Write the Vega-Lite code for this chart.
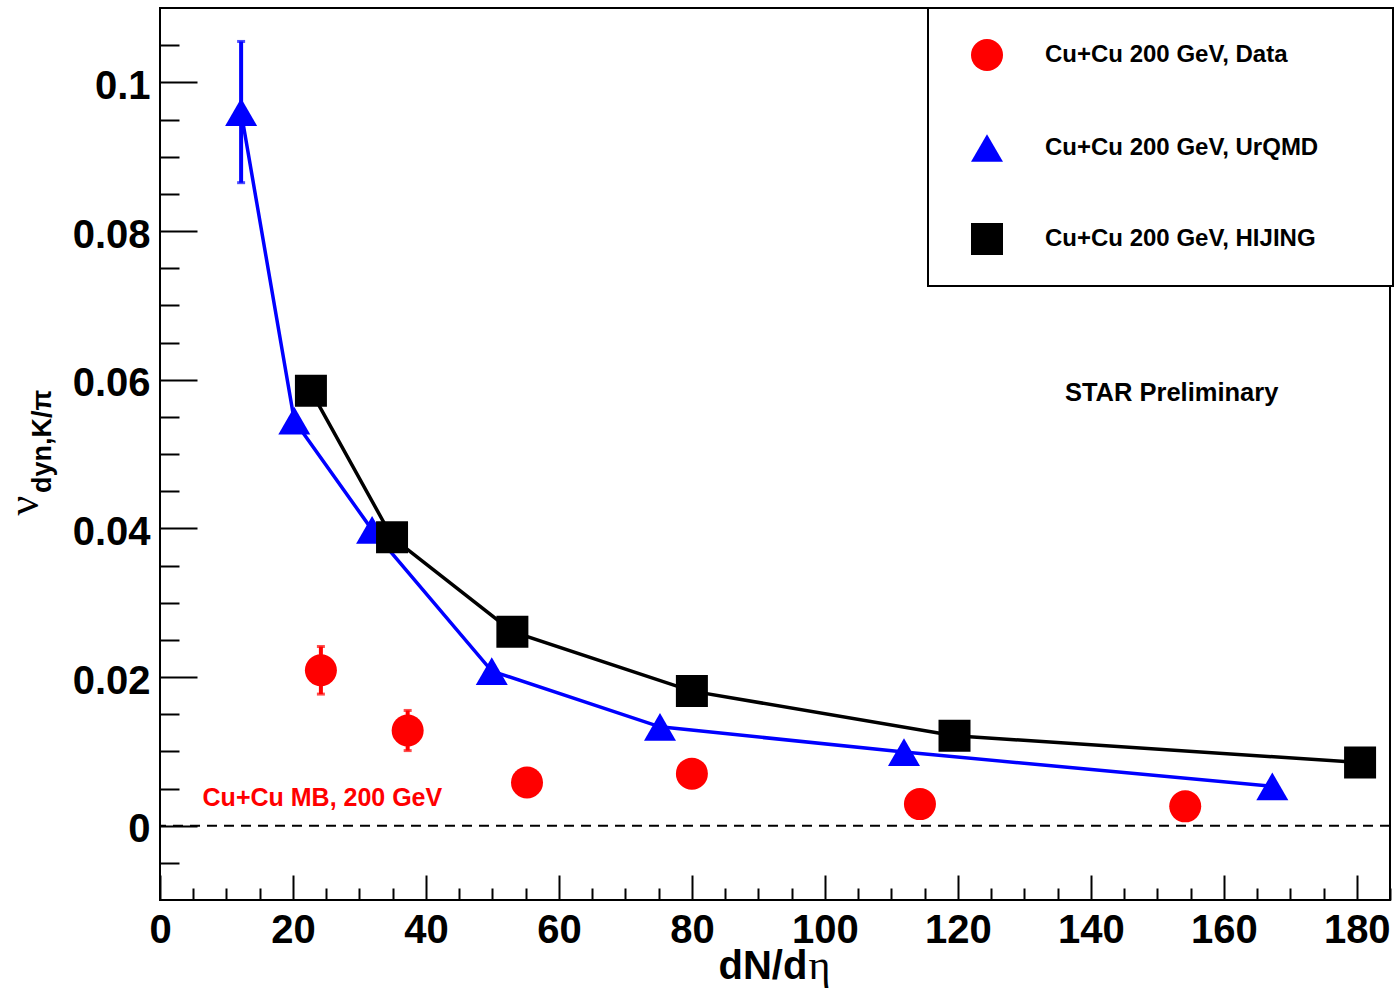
{
  "$schema": "https://vega.github.io/schema/vega-lite/v6.json",
  "width": 1230,
  "height": 892,
  "autosize": {"type": "none"},
  "padding": {"left": 160, "top": 8, "right": 5, "bottom": 93},
  "background": "white",
  "config": {
    "view": {"stroke": "black", "strokeWidth": 2},
    "font": "Liberation Sans",
    "legend": {"strokeWidth": 2},
    "axis": {
      "grid": false,
      "domain": false,
      "tickColor": "black",
      "tickWidth": 2,
      "labelFont": "Liberation Sans",
      "labelFontWeight": "bold",
      "labelFontSize": 40,
      "labelColor": "black",
      "titleColor": "black"
    }
  },
  "datasets": {
    "vdyn": [
      {"series": "Cu+Cu 200 GeV, Data", "dndeta": 24.2, "v": 0.0209, "err": 0.0032},
      {"series": "Cu+Cu 200 GeV, Data", "dndeta": 37.25, "v": 0.0128, "err": 0.0027},
      {"series": "Cu+Cu 200 GeV, Data", "dndeta": 55.2, "v": 0.0058, "err": null},
      {"series": "Cu+Cu 200 GeV, Data", "dndeta": 80.0, "v": 0.0070, "err": null},
      {"series": "Cu+Cu 200 GeV, Data", "dndeta": 114.3, "v": 0.0029, "err": null},
      {"series": "Cu+Cu 200 GeV, Data", "dndeta": 154.2, "v": 0.0026, "err": null},
      {"series": "Cu+Cu 200 GeV, UrQMD", "dndeta": 12.2, "v": 0.0960, "err": 0.0095},
      {"series": "Cu+Cu 200 GeV, UrQMD", "dndeta": 20.2, "v": 0.0545, "err": null},
      {"series": "Cu+Cu 200 GeV, UrQMD", "dndeta": 31.9, "v": 0.0398, "err": null},
      {"series": "Cu+Cu 200 GeV, UrQMD", "dndeta": 49.9, "v": 0.0208, "err": null},
      {"series": "Cu+Cu 200 GeV, UrQMD", "dndeta": 75.2, "v": 0.0133, "err": null},
      {"series": "Cu+Cu 200 GeV, UrQMD", "dndeta": 111.9, "v": 0.0099, "err": null},
      {"series": "Cu+Cu 200 GeV, UrQMD", "dndeta": 167.3, "v": 0.0053, "err": null},
      {"series": "Cu+Cu 200 GeV, HIJING", "dndeta": 22.7, "v": 0.0585, "err": null},
      {"series": "Cu+Cu 200 GeV, HIJING", "dndeta": 34.9, "v": 0.0388, "err": null},
      {"series": "Cu+Cu 200 GeV, HIJING", "dndeta": 53.0, "v": 0.0261, "err": null},
      {"series": "Cu+Cu 200 GeV, HIJING", "dndeta": 80.0, "v": 0.0181, "err": null},
      {"series": "Cu+Cu 200 GeV, HIJING", "dndeta": 119.5, "v": 0.0121, "err": null},
      {"series": "Cu+Cu 200 GeV, HIJING", "dndeta": 180.5, "v": 0.0085, "err": null}
    ]
  },
  "layer": [
    {
      "data": {"values": [{}]},
      "mark": {"type": "rule", "color": "black", "strokeWidth": 2, "strokeDash": [10, 7]},
      "encoding": {
        "y": {"datum": 0, "type": "quantitative", "scale": {"domain": [-0.01, 0.11], "nice": false, "zero": false}, "axis": null}
      }
    },
    {
      "data": {"name": "vdyn"},
      "transform": [{"filter": "datum.series === 'Cu+Cu 200 GeV, UrQMD'"}],
      "mark": {"type": "line", "strokeWidth": 3.5, "color": "#0000ff"},
      "encoding": {
        "x": {
          "field": "dndeta", "type": "quantitative",
          "scale": {"domain": [0, 185], "nice": false, "zero": false},
          "axis": {
            "orient": "bottom",
            "values": [0, 20, 40, 60, 80, 100, 120, 140, 160, 180],
            "tickSize": -25,
            "labelPadding": 67,
            "labelBaseline": "alphabetic",
            "labelFlush": false,
            "title": "dN/d",
            "titleFont": "Liberation Sans",
            "titleFontWeight": "bold",
            "titleFontSize": 40,
            "titleAlign": "left",
            "titleBaseline": "alphabetic",
            "titleX": 558,
            "titleY": 78
          }
        },
        "y": {
          "field": "v", "type": "quantitative",
          "scale": {"domain": [-0.01, 0.11], "nice": false, "zero": false},
          "axis": {
            "orient": "left",
            "values": [0, 0.02, 0.04, 0.06, 0.08, 0.1],
            "format": ".2~f",
            "tickSize": -37,
            "labelPadding": 47,
            "labelBaseline": "middle",
            "labelOffset": 4,
            "labelFlush": false,
            "title": "ν",
            "titleFont": "Liberation Serif",
            "titleFontWeight": "normal",
            "titleFontSize": 44,
            "titleAngle": -90,
            "titleAlign": "center",
            "titleBaseline": "alphabetic",
            "titleX": -123,
            "titleY": 497
          }
        }
      }
    },
    {
      "data": {"name": "vdyn"},
      "transform": [{"filter": "datum.series === 'Cu+Cu 200 GeV, HIJING'"}],
      "mark": {"type": "line", "strokeWidth": 3.5, "color": "#000000"},
      "encoding": {
        "x": {"field": "dndeta", "type": "quantitative", "axis": null},
        "y": {"field": "v", "type": "quantitative", "axis": null}
      }
    },
    {
      "data": {"name": "vdyn"},
      "transform": [{"filter": "datum.series === 'Cu+Cu 200 GeV, UrQMD' && isValid(datum.err)"}],
      "mark": {"type": "errorbar", "color": "#0000ff", "thickness": 4, "ticks": {"size": 8, "thickness": 3}},
      "encoding": {
        "x": {"field": "dndeta", "type": "quantitative", "axis": null},
        "y": {"field": "v", "type": "quantitative", "axis": null},
        "yError": {"field": "err"}
      }
    },
    {
      "data": {"name": "vdyn"},
      "transform": [{"filter": "datum.series === 'Cu+Cu 200 GeV, Data' && isValid(datum.err)"}],
      "mark": {"type": "errorbar", "color": "#ff0000", "thickness": 4, "ticks": {"size": 8, "thickness": 3}},
      "encoding": {
        "x": {"field": "dndeta", "type": "quantitative", "axis": null},
        "y": {"field": "v", "type": "quantitative", "axis": null},
        "yError": {"field": "err"}
      }
    },
    {
      "data": {"name": "vdyn"},
      "mark": {"type": "point", "filled": true, "size": 1024, "opacity": 1, "strokeWidth": 0},
      "encoding": {
        "x": {
          "field": "dndeta", "type": "quantitative",
          "axis": {
            "orient": "bottom",
            "values": [5, 10, 15, 25, 30, 35, 45, 50, 55, 65, 70, 75, 85, 90, 95, 105, 110, 115, 125, 130, 135, 145, 150, 155, 165, 170, 175, 185],
            "tickSize": -12,
            "labels": false,
            "title": "η",
            "titleFont": "Liberation Serif",
            "titleFontWeight": "normal",
            "titleFontSize": 42,
            "titleAlign": "left",
            "titleBaseline": "alphabetic",
            "titleX": 648,
            "titleY": 78
          }
        },
        "y": {
          "field": "v", "type": "quantitative",
          "axis": {
            "orient": "left",
            "values": [-0.005, 0.005, 0.01, 0.015, 0.025, 0.03, 0.035, 0.045, 0.05, 0.055, 0.065, 0.07, 0.075, 0.085, 0.09, 0.095, 0.105],
            "tickSize": -19,
            "labels": false,
            "title": "dyn,K/π",
            "titleFont": "Liberation Sans",
            "titleFontWeight": "bold",
            "titleFontSize": 27,
            "titleAngle": -90,
            "titleAlign": "center",
            "titleBaseline": "alphabetic",
            "titleX": -110,
            "titleY": 433
          }
        },
        "color": {
          "field": "series", "type": "nominal",
          "scale": {
            "domain": ["Cu+Cu 200 GeV, Data", "Cu+Cu 200 GeV, UrQMD", "Cu+Cu 200 GeV, HIJING"],
            "range": ["#ff0000", "#0000ff", "#000000"]
          },
          "legend": {
            "orient": "none",
            "legendX": 768,
            "legendY": 0,
            "title": null,
            "padding": 31,
            "rowPadding": 61,
            "symbolSize": 1024,
            "symbolOffset": 12,
            "symbolStrokeWidth": 0,
            "labelOffset": 42,
            "labelFont": "Liberation Sans",
            "labelFontWeight": "bold",
            "labelFontSize": 24,
            "labelColor": "black",
            "labelLimit": 600,
            "labelExpr": "datum.label + '\u00a0\u00a0\u00a0\u2009\u2800'",
            "strokeColor": "black",
            "fillColor": "white",
            "encode": {"legend": {"update": {"strokeWidth": {"value": 2}}}}
          }
        },
        "shape": {
          "field": "series", "type": "nominal",
          "scale": {
            "domain": ["Cu+Cu 200 GeV, Data", "Cu+Cu 200 GeV, UrQMD", "Cu+Cu 200 GeV, HIJING"],
            "range": ["circle", "triangle-up", "square"]
          }
        }
      }
    },
    {
      "data": {"values": [{}]},
      "mark": {"type": "text", "text": "Cu+Cu MB, 200 GeV", "color": "#ff0000", "font": "Liberation Sans", "fontWeight": "bold", "fontSize": 25, "align": "left", "baseline": "alphabetic"},
      "encoding": {
        "x": {"datum": 6.4, "type": "quantitative", "axis": null},
        "y": {"datum": 0.0026, "type": "quantitative", "axis": null}
      }
    },
    {
      "data": {"values": [{}]},
      "mark": {"type": "text", "text": "STAR Preliminary", "color": "black", "font": "Liberation Sans", "fontWeight": "bold", "fontSize": 25.5, "align": "left", "baseline": "alphabetic"},
      "encoding": {
        "x": {"datum": 136.1, "type": "quantitative", "axis": null},
        "y": {"datum": 0.0571, "type": "quantitative", "axis": null}
      }
    }
  ],
  "resolve": {"axis": {"x": "independent", "y": "independent"}}
}
